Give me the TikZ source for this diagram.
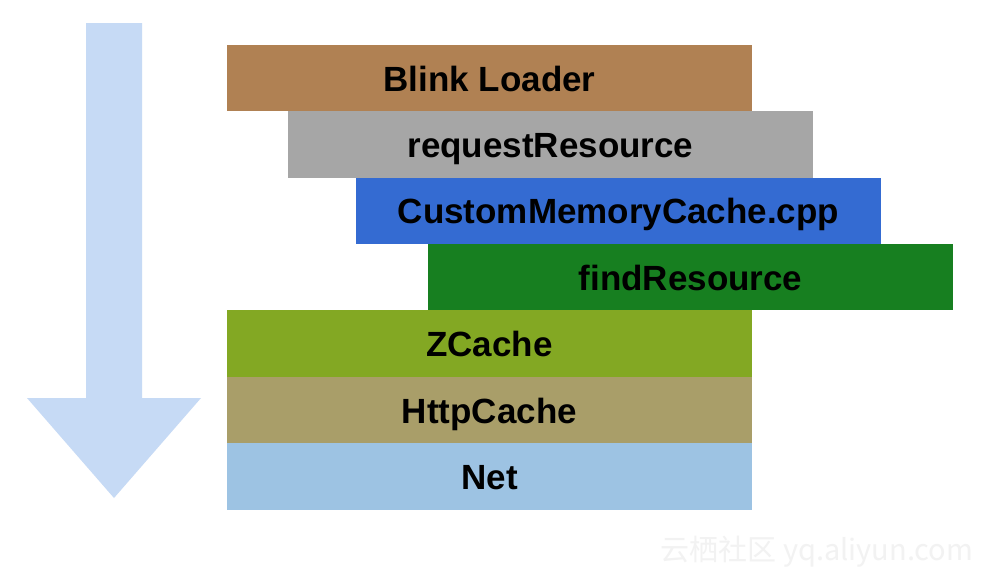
\documentclass[tikz,border=0pt]{standalone}
\usepackage{fontspec}
\setmainfont{Liberation Sans}
\newfontfamily\cjkfont{Noto Sans CJK SC}
\usetikzlibrary{positioning}
\definecolor{loader}{HTML}{B08153}
\definecolor{request}{HTML}{A6A6A6}
\definecolor{memcache}{HTML}{346BD2}
\definecolor{findres}{HTML}{177F20}
\definecolor{zcache}{HTML}{83A823}
\definecolor{httpcache}{HTML}{A99E69}
\definecolor{net}{HTML}{9DC3E3}
\definecolor{flow}{HTML}{C6DAF5}

\begin{document}
\begin{tikzpicture}[x=1pt,y=-1pt, every node/.style={font=\fontsize{35}{42}\selectfont\bfseries,align=center}, layer/.style={minimum width=525pt,minimum height=66.4pt,inner sep=0pt,outer sep=0pt,text height=26pt,text depth=0pt,text=black}]
\fill[white] (0,0) rectangle (992,582);
\useasboundingbox (0,0) rectangle (992,582);
% flow arrow
\fill[flow] (86,23) -- (142,23) -- (142,398) -- (201,398) -- (114,498) -- (27,398) -- (86,398) -- cycle;
% stack of layers
\node[layer,fill=loader] (blink) at (489.5,78) {Blink Loader};
\node[layer,fill=request,below=0pt of blink,xshift=61pt] (request) {requestResource};
\node[layer,fill=memcache,below=0pt of request,xshift=68pt] (memcache) {CustomMemoryCache.cpp};
\node[layer,fill=findres,below=0pt of memcache,xshift=72pt] (findres) {findResource};
\node[layer,fill=zcache,below=0pt of findres,xshift=-201pt] (zcache) {ZCache};
\node[layer,fill=httpcache,below=0pt of zcache] (httpcache) {HttpCache};
\node[layer,fill=net,below=0pt of httpcache] (net) {Net};
% watermark
\node[font=\fontsize{29}{34}\selectfont,text=black!5] (mark) at (817,552) {\cjkfont 云栖社区 yq.aliyun.com};
\end{tikzpicture}
\end{document}
